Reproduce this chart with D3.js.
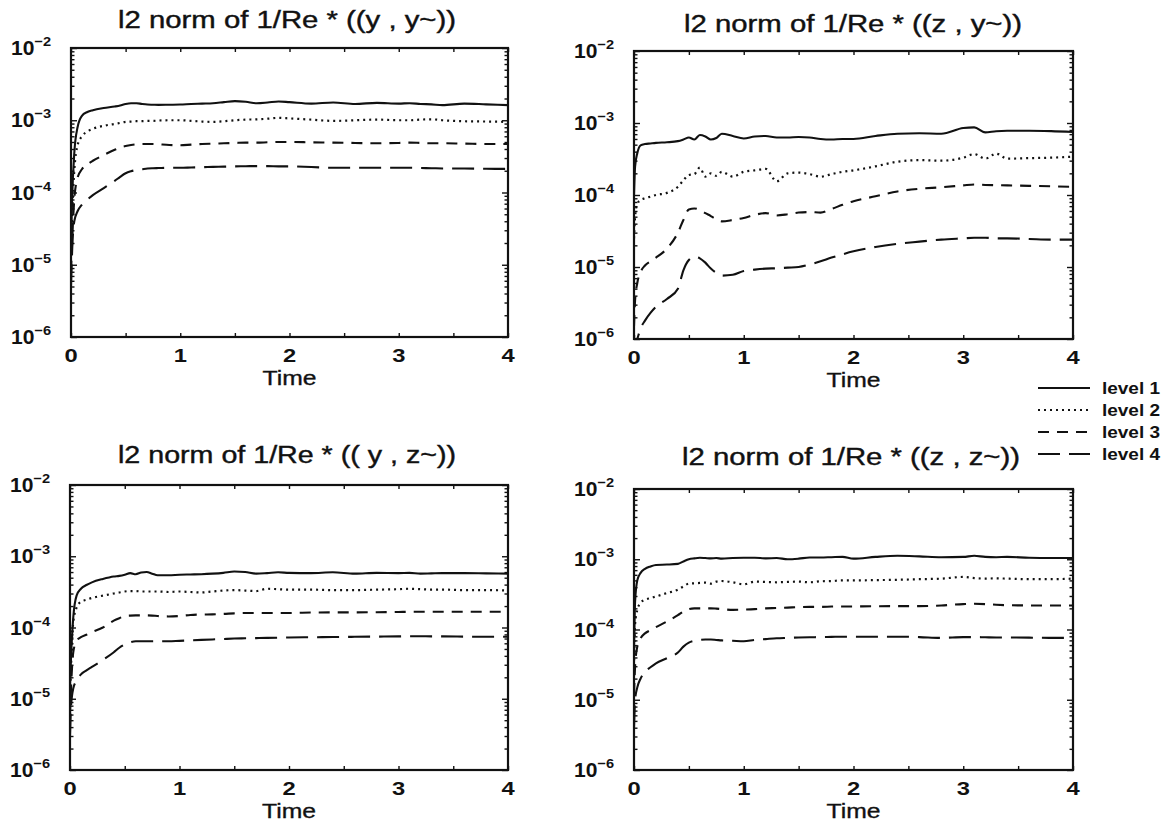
<!DOCTYPE html>
<html>
<head>
<meta charset="utf-8">
<script src="https://cdn.jsdelivr.net/npm/d3@7"></script>
<style>
  body { margin: 0; background: #fff; }
  svg { display: block; }
  text { font-family: "Liberation Sans", Arial, Helvetica, sans-serif; fill: #111; }
</style>
</head>
<body>
<svg id="chart" width="1171" height="828"></svg>
<script>
// ---- data -------------------------------------------------------------
const time = [0, 0.01, 0.03, 0.06, 0.1, 0.15, 0.2, 0.3, 0.4, 0.45, 0.5, 0.55, 0.6, 0.65, 0.7, 0.75, 0.8, 0.9,
  1.0, 1.1, 1.2, 1.3, 1.4, 1.5, 1.6, 1.7, 1.8, 1.9, 2.0, 2.2, 2.4, 2.6, 2.8, 3.0, 3.1, 3.2, 3.3, 3.4, 3.6, 3.8, 4.0];

const levelNames = ["level 1", "level 2", "level 3", "level 4"];
const panelTitles = [
  "l2 norm of 1/Re * ((y , y~))",
  "l2 norm of 1/Re * ((z , y~))",
  "l2 norm of 1/Re * (( y , z~))",
  "l2 norm of 1/Re * ((z , z~))"
];
const xTickLabels = [0, 1, 2, 3, 4];
const yTickExponents = [-2, -3, -4, -5, -6];
const xLabel = "Time";

// (y , y~)
const yyLevel1 = [2e-5, 8e-5, 3.5e-4, 8e-4, 1.15e-3, 1.3e-3, 1.38e-3, 1.48e-3, 1.55e-3, 1.6e-3, 1.68e-3, 1.72e-3, 1.72e-3, 1.68e-3, 1.65e-3, 1.64e-3, 1.63e-3, 1.64e-3,
  1.65e-3, 1.68e-3, 1.7e-3, 1.72e-3, 1.78e-3, 1.84e-3, 1.8e-3, 1.72e-3, 1.76e-3, 1.82e-3, 1.78e-3, 1.7e-3, 1.76e-3, 1.68e-3, 1.74e-3, 1.7e-3, 1.72e-3, 1.68e-3, 1.66e-3, 1.62e-3, 1.7e-3, 1.66e-3, 1.62e-3];
const yyLevel2 = [1.5e-5, 5e-5, 2e-4, 4.5e-4, 6e-4, 7e-4, 7.6e-4, 8.4e-4, 8.9e-4, 9.2e-4, 9.5e-4, 9.6e-4, 9.7e-4, 9.7e-4, 9.8e-4, 9.8e-4, 9.9e-4, 1.0e-3,
  1.0e-3, 9.8e-4, 9.6e-4, 9.5e-4, 9.7e-4, 1.0e-3, 1.02e-3, 1.03e-3, 1.05e-3, 1.08e-3, 1.06e-3, 1.02e-3, 9.8e-4, 1.0e-3, 1.02e-3, 1.0e-3, 1.0e-3, 1.02e-3, 1.03e-3, 1.0e-3, 9.7e-4, 9.6e-4, 9.5e-4];
const yyLevel3 = [8e-6, 2e-5, 8e-5, 1.6e-4, 2.1e-4, 2.45e-4, 2.75e-4, 3.3e-4, 3.9e-4, 4.2e-4, 4.4e-4, 4.55e-4, 4.65e-4, 4.7e-4, 4.7e-4, 4.7e-4, 4.65e-4, 4.55e-4,
  4.5e-4, 4.6e-4, 4.7e-4, 4.75e-4, 4.8e-4, 4.85e-4, 4.9e-4, 4.9e-4, 4.95e-4, 5.0e-4, 5.0e-4, 4.95e-4, 4.9e-4, 4.85e-4, 4.8e-4, 4.85e-4, 4.9e-4, 4.85e-4, 4.8e-4, 4.8e-4, 4.75e-4, 4.7e-4, 4.7e-4];
const yyLevel4 = [5e-6, 1.5e-5, 4e-5, 5.5e-5, 6.8e-5, 8e-5, 9.2e-5, 1.15e-4, 1.45e-4, 1.65e-4, 1.85e-4, 1.97e-4, 2.05e-4, 2.1e-4, 2.15e-4, 2.17e-4, 2.18e-4, 2.2e-4,
  2.2e-4, 2.22e-4, 2.24e-4, 2.26e-4, 2.28e-4, 2.3e-4, 2.31e-4, 2.32e-4, 2.32e-4, 2.3e-4, 2.3e-4, 2.25e-4, 2.2e-4, 2.2e-4, 2.2e-4, 2.2e-4, 2.2e-4, 2.18e-4, 2.17e-4, 2.15e-4, 2.15e-4, 2.13e-4, 2.12e-4];

// (z , y~)
const zyLevel1 = [1e-4, 2.5e-4, 3.8e-4, 4.9e-4, 5.1e-4, 5.2e-4, 5.3e-4, 5.4e-4, 5.6e-4, 5.9e-4, 6.3e-4, 5.9e-4, 6.8e-4, 6.5e-4, 5.9e-4, 6.2e-4, 7.1e-4, 6.6e-4,
  6.1e-4, 6.5e-4, 6.6e-4, 6.3e-4, 6.3e-4, 6.4e-4, 6.3e-4, 6.0e-4, 5.9e-4, 6.0e-4, 6.0e-4, 6.6e-4, 7.1e-4, 7.2e-4, 7.1e-4, 8.5e-4, 8.7e-4, 7.4e-4, 7.7e-4, 7.8e-4, 7.8e-4, 7.7e-4, 7.5e-4];
const zyLevel2 = [2.5e-5, 5e-5, 7.5e-5, 8.5e-5, 9e-5, 9.5e-5, 1.0e-4, 1.07e-4, 1.3e-4, 1.6e-4, 1.9e-4, 1.95e-4, 2.4e-4, 1.8e-4, 2.0e-4, 1.85e-4, 2.1e-4, 1.8e-4,
  2.1e-4, 2.2e-4, 2.3e-4, 1.55e-4, 2.0e-4, 2.05e-4, 1.95e-4, 1.8e-4, 1.95e-4, 2.1e-4, 2.2e-4, 2.5e-4, 2.9e-4, 3.05e-4, 3.0e-4, 3.3e-4, 3.7e-4, 3.2e-4, 3.75e-4, 3.2e-4, 3.25e-4, 3.3e-4, 3.4e-4];
const zyLevel3 = [1.5e-6, 3.5e-6, 6e-6, 8.5e-6, 1.05e-5, 1.2e-5, 1.35e-5, 1.8e-5, 3.0e-5, 4.5e-5, 6.3e-5, 6.5e-5, 6.2e-5, 5.6e-5, 5.1e-5, 4.6e-5, 4.3e-5, 4.5e-5,
  4.8e-5, 5.3e-5, 5.6e-5, 5.2e-5, 5.4e-5, 5.7e-5, 5.8e-5, 5.7e-5, 6.4e-5, 7.3e-5, 8.2e-5, 9.6e-5, 1.12e-4, 1.22e-4, 1.28e-4, 1.36e-4, 1.4e-4, 1.38e-4, 1.37e-4, 1.36e-4, 1.34e-4, 1.32e-4, 1.3e-4];
const zyLevel4 = [6e-7, 8e-7, 1.0e-6, 1.4e-6, 1.8e-6, 2.3e-6, 2.8e-6, 3.6e-6, 5.0e-6, 9.0e-6, 1.25e-5, 1.38e-5, 1.32e-5, 1.15e-5, 9.5e-6, 8.3e-6, 7.6e-6, 7.8e-6,
  8.8e-6, 9.2e-6, 9.5e-6, 9.6e-6, 9.8e-6, 1.0e-5, 1.08e-5, 1.2e-5, 1.35e-5, 1.5e-5, 1.65e-5, 1.9e-5, 2.1e-5, 2.25e-5, 2.4e-5, 2.5e-5, 2.55e-5, 2.55e-5, 2.5e-5, 2.5e-5, 2.45e-5, 2.4e-5, 2.4e-5];

// (y , z~)
const yzLevel1 = [1.5e-5, 4e-5, 1.4e-4, 2.8e-4, 3.5e-4, 3.95e-4, 4.3e-4, 4.8e-4, 5.2e-4, 5.3e-4, 5.5e-4, 5.8e-4, 5.6e-4, 5.9e-4, 6.0e-4, 5.7e-4, 5.4e-4, 5.4e-4,
  5.5e-4, 5.55e-4, 5.6e-4, 5.7e-4, 5.85e-4, 6.1e-4, 6.0e-4, 5.7e-4, 5.8e-4, 5.95e-4, 5.85e-4, 5.8e-4, 5.95e-4, 5.7e-4, 5.85e-4, 5.8e-4, 5.85e-4, 5.7e-4, 5.75e-4, 5.8e-4, 5.8e-4, 5.75e-4, 5.7e-4];
const yzLevel2 = [1e-5, 3e-5, 1.2e-4, 1.9e-4, 2.3e-4, 2.45e-4, 2.6e-4, 2.8e-4, 3.0e-4, 3.1e-4, 3.2e-4, 3.25e-4, 3.25e-4, 3.2e-4, 3.2e-4, 3.2e-4, 3.2e-4, 3.15e-4,
  3.2e-4, 3.15e-4, 3.1e-4, 3.2e-4, 3.3e-4, 3.35e-4, 3.3e-4, 3.25e-4, 3.5e-4, 3.45e-4, 3.4e-4, 3.4e-4, 3.35e-4, 3.35e-4, 3.4e-4, 3.45e-4, 3.5e-4, 3.45e-4, 3.4e-4, 3.4e-4, 3.35e-4, 3.35e-4, 3.3e-4];
const yzLevel3 = [6e-6, 1.5e-5, 4.5e-5, 6.5e-5, 7.3e-5, 7.9e-5, 8.6e-5, 1.0e-4, 1.25e-4, 1.35e-4, 1.45e-4, 1.47e-4, 1.48e-4, 1.48e-4, 1.48e-4, 1.47e-4, 1.45e-4, 1.43e-4,
  1.45e-4, 1.5e-4, 1.52e-4, 1.53e-4, 1.55e-4, 1.58e-4, 1.6e-4, 1.6e-4, 1.6e-4, 1.6e-4, 1.6e-4, 1.62e-4, 1.63e-4, 1.63e-4, 1.64e-4, 1.65e-4, 1.66e-4, 1.66e-4, 1.66e-4, 1.66e-4, 1.66e-4, 1.66e-4, 1.66e-4];
const yzLevel4 = [3e-6, 8e-6, 1.4e-5, 1.8e-5, 2.2e-5, 2.5e-5, 2.8e-5, 3.5e-5, 4.5e-5, 5.2e-5, 5.8e-5, 6.2e-5, 6.4e-5, 6.4e-5, 6.4e-5, 6.4e-5, 6.4e-5, 6.4e-5,
  6.5e-5, 6.6e-5, 6.7e-5, 6.8e-5, 6.9e-5, 7.0e-5, 7.05e-5, 7.1e-5, 7.15e-5, 7.2e-5, 7.25e-5, 7.3e-5, 7.35e-5, 7.4e-5, 7.45e-5, 7.5e-5, 7.55e-5, 7.55e-5, 7.5e-5, 7.5e-5, 7.45e-5, 7.4e-5, 7.4e-5];

// (z , z~)
const zzLevel1 = [5e-5, 2.5e-4, 5e-4, 6.4e-4, 7.3e-4, 7.9e-4, 8.3e-4, 8.4e-4, 8.6e-4, 9.3e-4, 1.0e-3, 1.03e-3, 1.05e-3, 1.04e-3, 1.03e-3, 1.04e-3, 1.02e-3, 1.04e-3,
  1.05e-3, 1.05e-3, 1.03e-3, 1.04e-3, 1.0e-3, 1.02e-3, 1.06e-3, 1.06e-3, 1.07e-3, 1.08e-3, 1.02e-3, 1.08e-3, 1.12e-3, 1.1e-3, 1.07e-3, 1.08e-3, 1.12e-3, 1.08e-3, 1.07e-3, 1.08e-3, 1.05e-3, 1.04e-3, 1.04e-3];
const zzLevel2 = [3e-5, 1.2e-4, 1.9e-4, 2.4e-4, 2.65e-4, 2.8e-4, 2.95e-4, 3.3e-4, 3.7e-4, 4.1e-4, 4.5e-4, 4.55e-4, 4.6e-4, 4.65e-4, 4.5e-4, 4.8e-4, 4.9e-4, 4.7e-4,
  4.4e-4, 4.8e-4, 4.75e-4, 4.7e-4, 4.75e-4, 4.8e-4, 4.7e-4, 4.85e-4, 4.9e-4, 5.0e-4, 5.0e-4, 5.05e-4, 5.1e-4, 5.2e-4, 5.3e-4, 5.6e-4, 5.4e-4, 5.3e-4, 5.35e-4, 5.3e-4, 5.2e-4, 5.2e-4, 5.3e-4];
const zzLevel3 = [1.2e-5, 3e-5, 5.7e-5, 7.5e-5, 8.8e-5, 9.8e-5, 1.08e-4, 1.3e-4, 1.6e-4, 1.8e-4, 1.95e-4, 2.0e-4, 2.0e-4, 2.0e-4, 2.0e-4, 1.98e-4, 1.95e-4, 1.9e-4,
  1.92e-4, 1.95e-4, 2.0e-4, 2.02e-4, 2.05e-4, 2.08e-4, 2.1e-4, 2.1e-4, 2.12e-4, 2.13e-4, 2.13e-4, 2.14e-4, 2.15e-4, 2.15e-4, 2.2e-4, 2.3e-4, 2.32e-4, 2.3e-4, 2.25e-4, 2.22e-4, 2.2e-4, 2.2e-4, 2.2e-4];
const zzLevel4 = [4e-6, 1e-5, 1.5e-5, 2.0e-5, 2.5e-5, 2.9e-5, 3.3e-5, 3.9e-5, 4.7e-5, 5.7e-5, 6.5e-5, 6.9e-5, 7.1e-5, 7.2e-5, 7.2e-5, 7.1e-5, 7.0e-5, 6.9e-5,
  6.8e-5, 7.1e-5, 7.3e-5, 7.5e-5, 7.6e-5, 7.7e-5, 7.75e-5, 7.8e-5, 7.85e-5, 7.9e-5, 7.9e-5, 7.9e-5, 7.9e-5, 7.8e-5, 7.6e-5, 7.8e-5, 7.8e-5, 7.75e-5, 7.7e-5, 7.7e-5, 7.65e-5, 7.6e-5, 7.6e-5];

const panelSeries = [
  [yyLevel1, yyLevel2, yyLevel3, yyLevel4],
  [zyLevel1, zyLevel2, zyLevel3, zyLevel4],
  [yzLevel1, yzLevel2, yzLevel3, yzLevel4],
  [zzLevel1, zzLevel2, zzLevel3, zzLevel4]
];

// ---- layout & styles --------------------------------------------------
const frames = [
  { left: 71,  right: 508,  top: 48,  bottom: 337, titleX: 287, titleY: 28 },
  { left: 634, right: 1073, top: 51,  bottom: 339, titleX: 853, titleY: 32 },
  { left: 70,  right: 508,  top: 485, bottom: 770, titleX: 287, titleY: 463 },
  { left: 634, right: 1073, top: 489, bottom: 770, titleX: 851, titleY: 465 }
];
const lineStyles = [
  { dash: null,      width: 2.1 },
  { dash: "2,4",     width: 2.2 },
  { dash: "11,8",    width: 2.1 },
  { dash: "22,9",    width: 2.1 }
];
const ink = "#111";

const svg = d3.select("#chart");
svg.append("rect").attr("width", 1171).attr("height", 828).attr("fill", "#fff");

frames.forEach((f, i) => {
  const x = d3.scaleLinear().domain([0, 4]).range([f.left, f.right]);
  const y = d3.scaleLog().domain([1e-6, 1e-2]).range([f.bottom, f.top]);
  const g = svg.append("g");

  // clip for the curves
  const clipId = "clip" + i;
  svg.append("clipPath").attr("id", clipId)
    .append("rect").attr("x", f.left).attr("y", f.top)
    .attr("width", f.right - f.left).attr("height", f.bottom - f.top);

  // curves
  const line = d3.line()
    .defined(d => d[1] > 0)
    .x(d => x(d[0]))
    .y(d => y(d[1]))
    .curve(d3.curveMonotoneX);
  panelSeries[i].forEach((vals, k) => {
    const pts = time.map((t, j) => [t, vals[j]]);
    g.append("path")
      .attr("clip-path", `url(#${clipId})`)
      .attr("d", line(pts))
      .attr("fill", "none")
      .attr("stroke", ink)
      .attr("stroke-width", lineStyles[k].width)
      .attr("stroke-dasharray", lineStyles[k].dash)
      .attr("stroke-linejoin", "round");
  });

  // ticks (all inward, on all four sides)
  const majorY = yTickExponents.map(e => Math.pow(10, e));
  const minorY = y.ticks().filter(v => !majorY.some(m => Math.abs(v / m - 1) < 1e-9));
  const xTicks = d3.range(0, 4.01, 0.5);
  const addAxis = (axis, tx, ty) => {
    const a = g.append("g").attr("transform", `translate(${tx},${ty})`).call(axis);
    a.select(".domain").remove();
    a.selectAll("line").attr("stroke", ink).attr("stroke-width", 1.4);
    a.selectAll("text").remove();
  };
  addAxis(d3.axisLeft(y).tickValues(majorY).tickSize(-6), f.left, 0);
  addAxis(d3.axisLeft(y).tickValues(minorY).tickSize(-3.5), f.left, 0);
  addAxis(d3.axisRight(y).tickValues(majorY).tickSize(-6), f.right, 0);
  addAxis(d3.axisRight(y).tickValues(minorY).tickSize(-3.5), f.right, 0);
  addAxis(d3.axisBottom(x).tickValues(xTicks).tickSize(-4), 0, f.bottom);
  addAxis(d3.axisTop(x).tickValues(xTicks).tickSize(-4), 0, f.top);

  // frame
  g.append("rect")
    .attr("x", f.left).attr("y", f.top)
    .attr("width", f.right - f.left).attr("height", f.bottom - f.top)
    .attr("fill", "none").attr("stroke", ink).attr("stroke-width", 2.2);

  // y tick labels: 10^e
  yTickExponents.forEach(e => {
    const t = g.append("text")
      .attr("transform", `translate(${f.left - 20},${y(Math.pow(10, e)) + 7}) scale(1.08,1)`)
      .attr("text-anchor", "end")
      .attr("font-size", 19.5).attr("font-weight", "bold");
    t.append("tspan").text("10");
    t.append("tspan").attr("font-size", 13.5).attr("dy", -9).text("\u2212" + Math.abs(e));
  });

  // x tick labels
  xTickLabels.forEach(v => {
    g.append("text")
      .attr("transform", `translate(${x(v)},${f.bottom + 25}) scale(1.25,1)`)
      .attr("text-anchor", "middle")
      .attr("font-size", 19).attr("font-weight", "bold")
      .text(v);
  });

  // x axis label
  g.append("text")
    .attr("x", (f.left + f.right) / 2 - 27).attr("y", f.bottom + 48)
    .attr("font-size", 20.5)
    .attr("stroke", ink).attr("stroke-width", 0.35)
    .attr("textLength", 54).attr("lengthAdjust", "spacingAndGlyphs")
    .text(xLabel);

  // title
  g.append("text")
    .attr("x", f.titleX - 169).attr("y", f.titleY)
    .attr("font-size", 23)
    .attr("stroke", ink).attr("stroke-width", 0.4)
    .attr("textLength", 338).attr("lengthAdjust", "spacingAndGlyphs")
    .text(panelTitles[i]);
});

// ---- legend -----------------------------------------------------------
const legendY = d3.scalePoint().domain(levelNames).range([388, 454]);
const legend = svg.append("g");
levelNames.forEach((name, k) => {
  legend.append("line")
    .attr("x1", 1038).attr("x2", 1090)
    .attr("y1", legendY(name)).attr("y2", legendY(name))
    .attr("stroke", ink)
    .attr("stroke-width", lineStyles[k].width)
    .attr("stroke-dasharray", lineStyles[k].dash);
  legend.append("text")
    .attr("x", 1102).attr("y", legendY(name) + 6)
    .attr("font-size", 16).attr("font-weight", "bold")
    .attr("textLength", 58).attr("lengthAdjust", "spacingAndGlyphs")
    .text(name);
});
</script>
</body>
</html>
